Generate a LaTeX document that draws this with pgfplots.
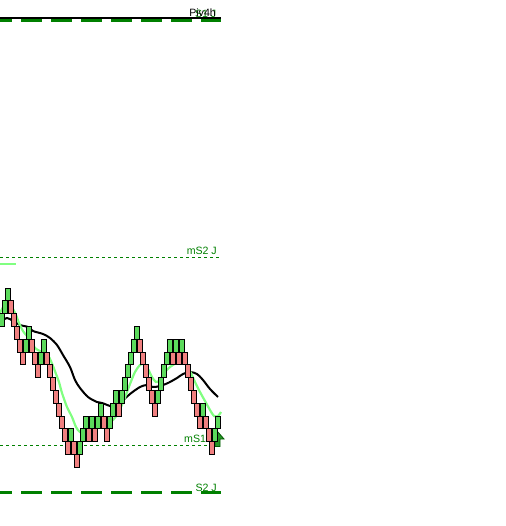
\documentclass[border=0pt]{standalone}
\usepackage{pgfplots}
\pgfplotsset{compat=1.18}
\usepackage{fontspec}
\setmainfont{Liberation Sans}
\definecolor{lvlgreen}{RGB}{0,128,0}
\definecolor{brickgreen}{RGB}{92,218,92}
\definecolor{brickred}{RGB}{240,128,128}
\definecolor{malight}{RGB}{128,255,128}
\definecolor{arrowfill}{RGB}{40,150,40}
\pgfdeclareplotmark{brick}{%
  \pgfpathrectangle{\pgfqpoint{-2.3pt}{-6.4pt}}{\pgfqpoint{4.6pt}{12.8pt}}%
  \pgfusepathqfillstroke}
\begin{document}
\begin{tikzpicture}
\useasboundingbox (0,0) rectangle (505pt,526pt);
\begin{axis}[at={(0,0)}, anchor=south west, scale only axis,
  width=505pt, height=526pt, xmin=0, xmax=505, ymin=0, ymax=526,
  y dir=reverse, hide axis, clip=true]
% pivot levels
\addplot[black, line width=2pt] coordinates {(0,18) (221,18)};
\addplot[lvlgreen, line width=2.2pt, dash pattern=on 21pt off 9pt, dash phase=9pt] coordinates {(0,20.5) (221,20.5)};
\addplot[lvlgreen, line width=0.9pt, dash pattern=on 3pt off 3pt] coordinates {(0,257) (221,257)};
\addplot[lvlgreen, line width=0.9pt, dash pattern=on 3pt off 3pt] coordinates {(0,445) (221,445)};
\addplot[lvlgreen, line width=2.2pt, dash pattern=on 21pt off 9pt, dash phase=9pt] coordinates {(0,492.5) (221,492.5)};
\addplot[malight, line width=2.4pt] coordinates {(0,264) (16,264)};
% renko bricks
\addplot[only marks, mark=brick, mark options={fill=brickgreen, draw=black, line width=1pt}] coordinates {
(1.75,320.0) (4.75,307.2) (7.75,294.4) (25.75,345.6) (28.75,332.8)
(40.75,358.4) (43.75,345.6) (70.75,435.2) (79.75,448.0) (82.75,435.2)
(85.75,422.4) (91.75,422.4) (97.75,422.4) (100.75,409.6) (109.75,422.4)
(112.75,409.6) (115.75,396.8) (121.75,396.8) (124.75,384.0) (127.75,371.2)
(130.75,358.4) (133.75,345.6) (136.75,332.8) (157.75,396.8) (160.75,384.0)
(163.75,371.2) (166.75,358.4) (169.75,345.6) (175.75,345.6) (181.75,345.6)
(202.75,409.6) (214.75,435.2) (217.75,422.4)};
\addplot[only marks, mark=brick, mark options={fill=brickred, draw=black, line width=1pt}] coordinates {
(-1.25,332.8) (10.75,307.2) (13.75,320.0) (16.75,332.8) (19.75,345.6)
(22.75,358.4) (31.75,345.6) (34.75,358.4) (37.75,371.2) (46.75,358.4)
(49.75,371.2) (52.75,384.0) (55.75,396.8) (58.75,409.6) (61.75,422.4)
(64.75,435.2) (67.75,448.0) (73.75,448.0) (76.75,460.8) (88.75,435.2)
(94.75,435.2) (103.75,422.4) (106.75,435.2) (118.75,409.6) (139.75,345.6)
(142.75,358.4) (145.75,371.2) (148.75,384.0) (151.75,396.8) (154.75,409.6)
(172.75,358.4) (178.75,358.4) (184.75,358.4) (187.75,371.2) (190.75,384.0)
(193.75,396.8) (196.75,409.6) (199.75,422.4) (205.75,422.4) (208.75,435.2)
(211.75,448.0)};
% slow MA
\addplot[black, line width=2pt, smooth] coordinates {
(0,322) (7,318) (13,321) (20,325) (28,327) (33,331) (43,334) (50,338)
(57,345) (63,355) (70,367) (75,380) (80,388) (88,397) (97,402) (102,403)
(110,406) (115,407) (120,403) (130,394) (140,387) (147,385) (153,387)
(160,386) (168,383) (177,378) (183,374) (190,372) (197,374) (203,380)
(210,389) (218,397)};
% fast MA
\addplot[malight, line width=2.2pt, smooth] coordinates {
(0,313) (4,306) (9,305) (13,309) (16,315) (19,323) (23,331) (27,336)
(31,340) (35,348) (40,351) (45,353) (49,357) (53,366) (56,374) (59,382)
(62,393) (67,407) (72,417) (76,427) (80,432) (85,430) (90,430) (97,428)
(103,425) (108,423) (113,420) (118,413) (124,400) (130,384) (135,372)
(140,365) (144,364) (148,369) (152,377) (156,382) (160,380) (165,372)
(170,367) (176,363) (181,358) (185,361) (190,371) (195,382) (200,392)
(205,401) (210,410) (214,416) (218,416) (221,412)};
% labels
\node[anchor=base east, text=lvlgreen, font=\fontsize{10.6}{12}\selectfont, inner sep=0pt] at (axis cs:216.5,18) {S1 J};
\node[anchor=base east, text=black, font=\fontsize{10.6}{12}\selectfont, inner sep=0pt] at (axis cs:216,16.5) {Piv4h};
\node[anchor=base east, text=lvlgreen, font=\fontsize{10.6}{12}\selectfont, inner sep=0pt] at (axis cs:217,254.5) {mS2 J};
\node[anchor=base west, text=lvlgreen, font=\fontsize{10.6}{12}\selectfont, inner sep=0pt] at (axis cs:184,442) {mS1 S};
\node[anchor=base east, text=lvlgreen, font=\fontsize{10.6}{12}\selectfont, inner sep=0pt] at (axis cs:217,491.5) {S2 J};
% arrow
\addplot[draw=lvlgreen!70!black, fill=arrowfill, line width=0.8pt] coordinates {
(217.5,431.5) (224,439) (220,439) (220,446.5) (215,446.5) (215,439) (211,439) (217.5,431.5)};
\end{axis}
\end{tikzpicture}
\end{document}
